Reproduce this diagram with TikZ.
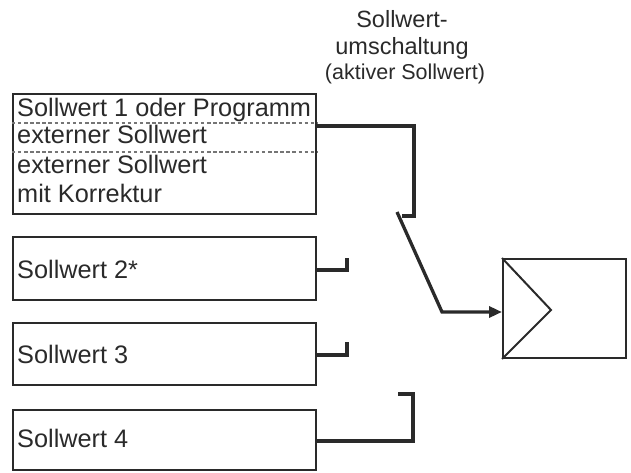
\documentclass[tikz,border=0pt]{standalone}
\usepackage{fontspec}
\setmainfont{Liberation Sans}
\usetikzlibrary{arrows.meta}
\definecolor{ink}{HTML}{2A2A2A}
\tikzset{
  box/.style={draw=ink, line width=2.3pt, inner sep=0pt, minimum width=#1},
  txt/.style={anchor=base west, inner sep=0pt, text=ink, font=\fontsize{25.3}{28}\selectfont},
  ttl/.style={anchor=base, inner sep=0pt, text=ink, font=\fontsize{23.5}{26}\selectfont},
  sub/.style={anchor=base, inner sep=0pt, text=ink, font=\fontsize{21.5}{24}\selectfont},
  conn/.style={draw=ink, line width=3.3pt, line join=miter},
  sep/.style={draw=ink!65, line width=1.8pt, dash pattern=on 3.5pt off 2.6pt},
}
\begin{document}
\begin{tikzpicture}[x=1pt,y=-1pt]
\useasboundingbox (0,0) rectangle (631,473);
% title
\node[ttl] (t1) at (402,28) {Sollwert-};
\node[ttl] (t2) at (402,55) {umschaltung};
\node[sub] (t3) at (405,80) {(aktiver Sollwert)};
% boxes
\node[box=303pt, minimum height=120pt] (b1) at (164.5,154) {};
\node[box=303pt, minimum height=63pt] (b2) at (164.5,268.5) {};
\node[box=303pt, minimum height=62pt] (b3) at (164.5,354) {};
\node[box=303pt, minimum height=60pt] (b4) at (164.5,440) {};
\draw[sep] (b1.west |- 0,123) -- (b1.east |- 0,123);
\draw[sep] (b1.west |- 0,152) -- (b1.east |- 0,152);
\node[txt] (l1) at (17,117) {Sollwert 1 oder Programm};
\node[txt] (l2) at (17,144) {externer Sollwert};
\node[txt] (l3) at (17,174) {externer Sollwert};
\node[txt] (l4) at (17,202) {mit Korrektur};
\node[txt] (l5) at (17,278) {Sollwert 2*};
\node[txt] (l6) at (17,363) {Sollwert 3};
\node[txt] (l7) at (17,447) {Sollwert 4};
% target box
\node[draw=ink, line width=2pt, inner sep=0pt, minimum width=123pt, minimum height=99pt] (rb) at (564.5,308.5) {};
\coordinate (apex) at (551,310);
\draw[ink, line width=2pt] (rb.north west) -- (apex) -- (rb.south west);
% contacts
\coordinate (c1) at (414,216);
\coordinate (c2) at (347,258);
\coordinate (c3) at (347,342);
\coordinate (c4) at (413,394);
\draw[conn] (b1.east |- 0,126) -| (c1) -- ++(-12,0);
\draw[conn] (b2.east |- 0,270) -| (c2);
\draw[conn] (b3.east |- 0,355) -| (c3);
\draw[conn] (b4.east |- 0,441) -| (c4) -- ++(-15,0);
% lever
\coordinate (p0) at (397,212);
\coordinate (p1) at (442,312);
\draw[conn, -{Triangle[length=13pt,width=11pt]}] (p0) -- (p1) -- (rb.west |- p1);
\end{tikzpicture}
\end{document}
